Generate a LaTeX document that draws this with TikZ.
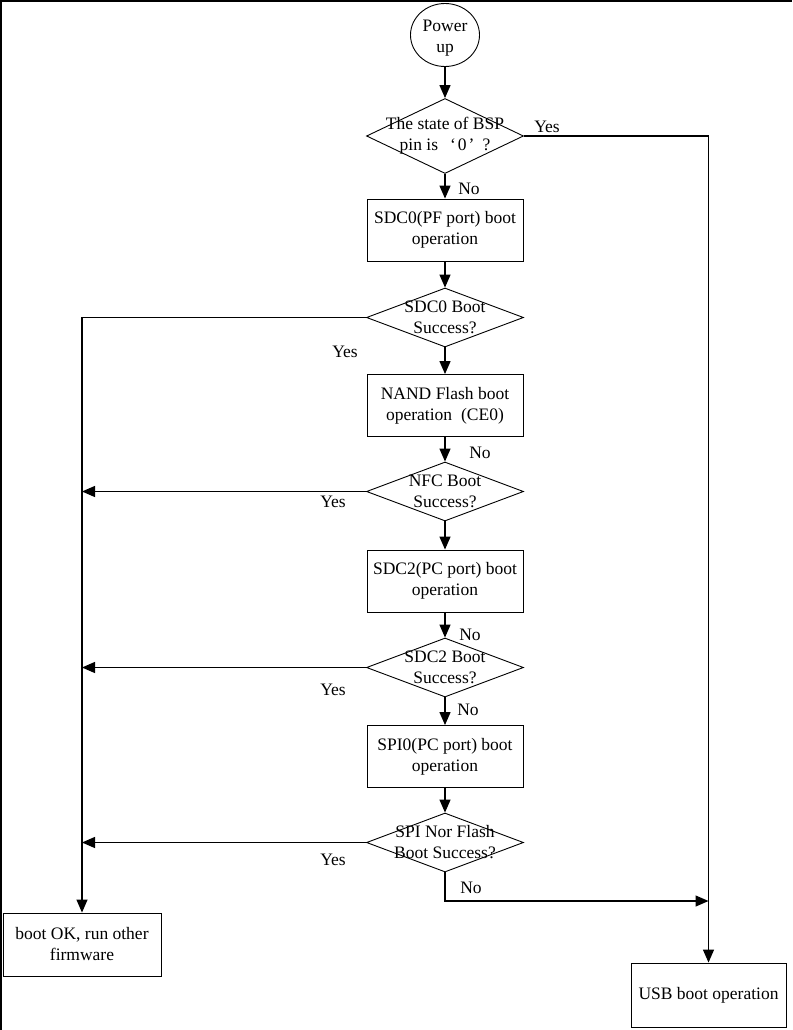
\documentclass[tikz,border=0pt]{standalone}
\usepackage{fontspec}
\setmainfont{Liberation Serif}
\usetikzlibrary{shapes.geometric,arrows.meta}
\begin{document}
\begin{tikzpicture}[x=1pt,y=-1pt,
 font=\fontsize{17.5}{21}\selectfont,
 stepbox/.style={draw,line width=0.9pt,rectangle,minimum width=156pt,minimum height=62pt,align=center,inner sep=0},
 decision/.style={draw,line width=0.9pt,diamond,minimum width=157pt,minimum height=59pt,inner sep=0},
 dtext/.style={align=center,inner sep=0},
 lbl/.style={inner sep=0},
 flow/.style={-{Triangle[length=13pt,width=11pt]},line width=1.3pt},
 plain/.style={line width=1.3pt}]
\useasboundingbox (0,0) rectangle (792,1030);
\draw[line width=2pt] (1,1030) -- (1,1) -- (792,1);

% nodes
\node[ellipse,draw,line width=0.9pt,minimum width=69pt,minimum height=63pt,inner sep=0] (pw) at (445,35) {};
\node[dtext] at (445,38.5) {Power\\up};
\node[decision,minimum height=75pt] (d1) at (445,136) {};
\node[dtext] at (d1) {The state of BSP\\pin is\hspace{12pt}‘\hspace{2pt}0\hspace{2pt}’\hspace{8pt}?};
\node[stepbox] (b1) at (445,230) {SDC0(PF port) boot\\operation};
\node[decision] (d2) at (445,317.5) {};
\node[dtext] at (d2) {SDC0 Boot\\Success?};
\node[stepbox] (b2) at (445,405.5) {NAND Flash boot\\operation\hspace{9pt}(CE0)};
\node[decision] (d3) at (445,491.5) {};
\node[dtext] at (d3) {NFC Boot\\Success?};
\node[stepbox] (b3) at (445,581) {SDC2(PC port) boot\\operation};
\node[decision] (d4) at (445,667.5) {};
\node[dtext] at (d4) {SDC2 Boot\\Success?};
\node[stepbox] (b4) at (445,756.5) {SPI0(PC port) boot\\operation};
\node[decision] (d5) at (445,842.5) {};
\node[dtext] at (d5) {SPI Nor Flash\\Boot Success?};
\node[stepbox,minimum width=158pt,minimum height=63pt] (ok) at (82,944.5) {boot OK, run other\\firmware};
\node[stepbox,minimum width=155pt,minimum height=64pt] (usb) at (708.5,995) {USB boot operation};
\coordinate (jr) at (708.5,901);

% connectors
\draw[flow] (pw) -- (d1);
\draw[flow] (d1) -- (b1);
\draw[flow] (b1) -- (d2);
\draw[flow] (d2) -- (b2);
\draw[flow] (b2) -- (d3);
\draw[flow] (d3) -- (b3);
\draw[flow] (b3) -- (d4);
\draw[flow] (d4) -- (b4);
\draw[flow] (b4) -- (d5);
\draw[flow] (d1.east) -| (usb.north);
\draw[flow] (d2.west) -| (ok.north);
\draw[flow] (d3.west) -- (d3.west -| ok.north);
\draw[flow] (d4.west) -- (d4.west -| ok.north);
\draw[flow] (d5.west) -- (d5.west -| ok.north);
\draw[flow] (d5.south) |- (jr);

% labels
\node[lbl] at (547,127) {Yes};
\node[lbl] at (469,189) {No};
\node[lbl] at (345,352) {Yes};
\node[lbl] at (480,453) {No};
\node[lbl] at (333,502) {Yes};
\node[lbl] at (470,635) {No};
\node[lbl] at (333,690) {Yes};
\node[lbl] at (468,710) {No};
\node[lbl] at (333,860) {Yes};
\node[lbl] at (471,888) {No};
\end{tikzpicture}
\end{document}
